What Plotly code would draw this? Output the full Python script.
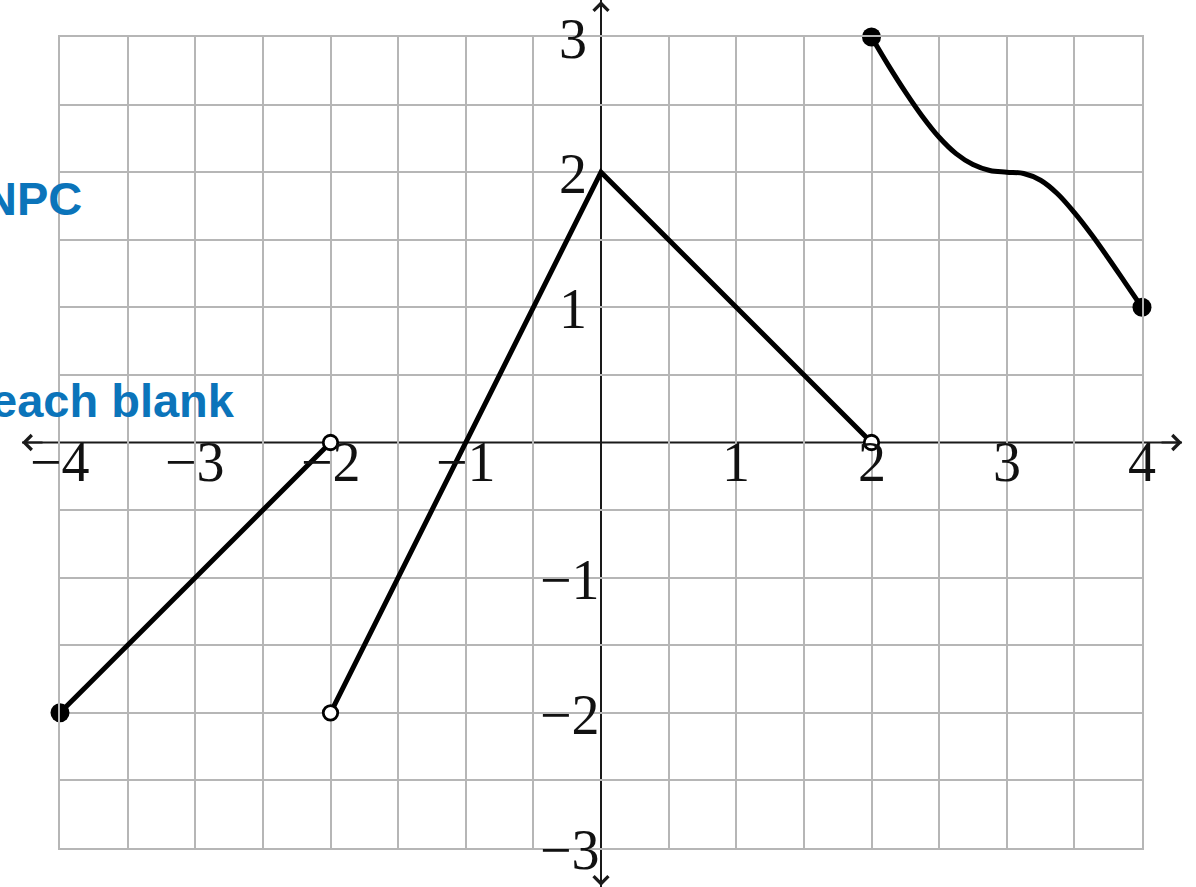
import plotly.graph_objects as go

# ---- data ----
seg1_x = [-4, -2]
seg1_y = [-2, 0]
seg2_x = [-2, 0, 2]
seg2_y = [-2, 2, 0]
curve_x = [2, 2.125, 2.25, 2.375, 2.5, 2.625, 2.75, 2.875, 3,
           3.125, 3.25, 3.375, 3.5, 3.625, 3.75, 3.875, 4]
curve_y = [3, 2.79, 2.594, 2.414, 2.258, 2.137, 2.056, 2.012, 2.0,
           1.99, 1.94, 1.84, 1.70, 1.54, 1.365, 1.183, 1.0]
closed_x = [-4, 2, 4]
closed_y = [-2, 3, 1]
open_x = [-2, -2, 2]
open_y = [0, -2, 0]

xtick_vals = [-4, -3, -2, -1, 1, 2, 3, 4]
xtick_text = ["−4", "−3", "−2", "−1", "1", "2", "3", "4"]
ytick_vals = [-3, -2, -1, 1, 2, 3]
ytick_text = ["−3", "−2", "−1", "1", "2", "3"]
grid_x = [-4, -3.5, -3, -2.5, -2, -1.5, -1, -0.5, 0.5, 1, 1.5, 2, 2.5, 3, 3.5, 4]
grid_y = [-3, -2.5, -2, -1.5, -1, -0.5, 0.5, 1, 1.5, 2, 2.5, 3]
side_texts = ["NPC", "each blank"]

W, H = 1196, 887
ML, MR, MT, MB = 60, 54, 37, 39
GRID = "#b6b6b6"
LW = 5

fig = go.Figure()
fig.add_trace(go.Scatter(x=seg1_x, y=seg1_y, mode="lines",
                         line=dict(color="black", width=LW), hoverinfo="skip"))
fig.add_trace(go.Scatter(x=seg2_x, y=seg2_y, mode="lines",
                         line=dict(color="black", width=LW), hoverinfo="skip"))
fig.add_trace(go.Scatter(x=curve_x, y=curve_y, mode="lines",
                         line=dict(color="black", width=LW, shape="spline", smoothing=1.0),
                         hoverinfo="skip"))
fig.add_trace(go.Scatter(x=closed_x, y=closed_y, mode="markers", cliponaxis=False,
                         marker=dict(color="black", size=19), hoverinfo="skip"))
fig.add_trace(go.Scatter(x=open_x, y=open_y, mode="markers", cliponaxis=False,
                         marker=dict(color="white", size=14.5, line=dict(color="black", width=2.8)),
                         hoverinfo="skip"))

# axes lines (below the traces)
fig.add_shape(type="line", xref="paper", yref="y", x0=-0.0351, x1=1.037, y0=0, y1=0,
              line=dict(color="#1a1a1a", width=2), layer="below")
fig.add_shape(type="line", xref="x", yref="paper", x0=0, x1=0, y0=-0.048, y1=1.0456,
              line=dict(color="#1a1a1a", width=2), layer="below")

annotations = []
# arrow heads
arrow_common = dict(text="", showarrow=True, arrowhead=4, arrowsize=1.6, arrowwidth=1.8,
                    arrowcolor="#1a1a1a", axref="pixel", ayref="pixel", standoff=0)
annotations.append(dict(xref="paper", yref="y", x=1.037, y=0, ax=-22, ay=0, **arrow_common))
annotations.append(dict(xref="paper", yref="y", x=-0.0351, y=0, ax=22, ay=0, **arrow_common))
annotations.append(dict(xref="x", yref="paper", x=0, y=1.0456, ax=0, ay=22, **arrow_common))
annotations.append(dict(xref="x", yref="paper", x=0, y=-0.048, ax=0, ay=-22, **arrow_common))

tick_font = dict(family="Liberation Serif, DejaVu Serif, serif", size=56, color="#111111")
for v, t in zip(xtick_vals, xtick_text):
    annotations.append(dict(xref="x", yref="y", x=v, y=0, text=t, showarrow=False,
                            xanchor="center", yanchor="middle", yshift=-19, font=tick_font))
for v, t in zip(ytick_vals, ytick_text):
    annotations.append(dict(xref="x", yref="y", x=0, y=v, text=t, showarrow=False,
                            xanchor="right", yanchor="middle",
                            xshift=(-12 if v > 0 else 1), yshift=-2, font=tick_font))

blue_font = dict(family="Liberation Sans, Arial, sans-serif", size=47, color="#0b74ba", weight="bold")
annotations.append(dict(xref="paper", yref="paper", x=(84 - ML) / (W - ML - MR),
                        y=(H - MB - 198) / (H - MT - MB), text=side_texts[0], showarrow=False,
                        xanchor="right", yanchor="middle", font=blue_font))
annotations.append(dict(xref="paper", yref="paper", x=(237 - ML) / (W - ML - MR),
                        y=(H - MB - 400) / (H - MT - MB), text=side_texts[1], showarrow=False,
                        xanchor="right", yanchor="middle", font=blue_font))

axis_common = dict(showticklabels=False, ticks="", zeroline=False, showline=True, mirror=True,
                   linecolor=GRID, linewidth=2, showgrid=True, gridcolor=GRID, gridwidth=2,
                   tickmode="array", fixedrange=True)
fig.update_layout(
    width=W, height=H,
    margin=dict(l=ML, r=MR, t=MT, b=MB),
    paper_bgcolor="white", plot_bgcolor="rgba(0,0,0,0)",
    showlegend=False,
    xaxis=dict(range=[-4, 4], tickvals=grid_x, **axis_common),
    yaxis=dict(range=[-3, 3], tickvals=grid_y, **axis_common),
    annotations=annotations,
)

fig.write_html("out.html", config={"displayModeBar": False},
               post_script="document.body.style.margin='0';document.body.style.overflow='hidden';")
